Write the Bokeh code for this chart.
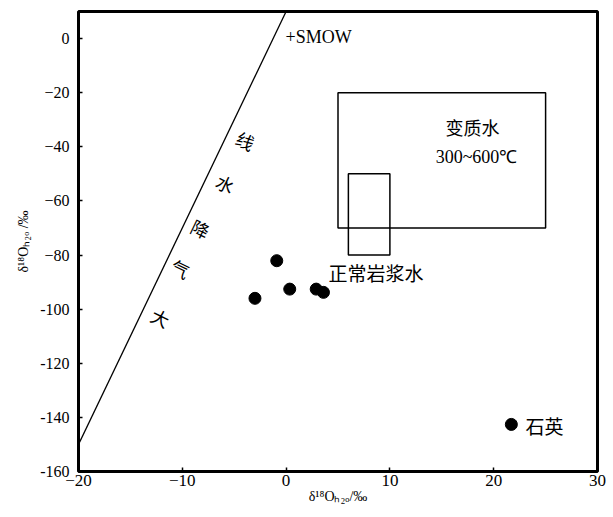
from bokeh.plotting import figure
from bokeh.models import Range1d, FixedTicker, Label
from bokeh.core.properties import value
from bokeh.embed import file_html
from bokeh.resources import INLINE

# ---------------- data ----------------
sample_x = [-3.0, -0.9, 0.35, 2.9, 3.6]
sample_y = [-96.0, -82.1, -92.6, -92.6, -93.8]
quartz_x = [21.7]
quartz_y = [-142.6]

mwl_x = [-20, 0]          # meteoric water line end points
mwl_y = [-150, 10]

meta_left, meta_right, meta_top, meta_bottom = [5], [25], [-20], [-70]
magma_left, magma_right, magma_top, magma_bottom = [6], [10], [-50], [-80]

x_ticks = [-20, -10, 0, 10, 20, 30]
x_tick_labels = ["\u221220", "\u221210", "0", "10", "20", "30"]
y_ticks = [0, -20, -40, -60, -80, -100, -120, -140, -160]
y_tick_labels = ["0", "\u221220", "\u221240", "\u221260", "\u221280", "-100", "-120", "-140", "-160"]

x_title = "\u03b4\u00b9\u2078O\u2095\u2082\u2092/\u2030"
y_title = "\u03b4\u00b9\u2078O\u2095\u2082\u2092 /\u2030"

mwl_chars = ["大", "气", "降", "水", "线"]

SERIF = "Liberation Serif"
CJK = "Noto Sans CJK SC"

# ---------------- figure ----------------
W, H = 608, 515
FL, FT, FR, FB = 78, 11, 597, 471   # frame edges in canvas px
p = figure(width=W, height=H, output_backend="svg", toolbar_location=None,
           x_range=Range1d(-20, 30), y_range=Range1d(-160, 10))
p.min_border = 0
p.min_border_left = FL
p.min_border_right = W - FR
p.min_border_top = FT
p.min_border_bottom = H - FB
p.background_fill_color = "white"
p.border_fill_color = "white"
p.outline_line_color = "black"
p.outline_line_width = 3
p.xgrid.visible = False
p.ygrid.visible = False

for ax, ticks, labels, size in ((p.xaxis, x_ticks, x_tick_labels, "17px"),
                                (p.yaxis, y_ticks, y_tick_labels, "16px")):
    ax.ticker = FixedTicker(ticks=ticks)
    ax.major_label_overrides = {t: l for t, l in zip(ticks, labels)}
    ax.axis_line_color = None
    ax.major_tick_in = 4
    ax.major_tick_out = 0
    ax.major_tick_line_width = 1.5
    ax.major_tick_line_color = "black"
    ax.minor_tick_line_color = None
    ax.major_label_text_font = SERIF
    ax.major_label_text_font_size = size
    ax.major_label_text_color = "black"
    ax.axis_label_text_font = SERIF
    ax.axis_label_text_font_size = "14px"
    ax.axis_label_text_font_style = "normal"
    ax.axis_label_text_color = "black"
    ax.axis_label_standoff = 0
p.xaxis.axis_label = x_title
p.yaxis.axis_label = y_title
p.xaxis.major_label_standoff = 3
p.yaxis.major_label_standoff = 9
p.yaxis.axis_label_standoff = 6

# canvas-pixel -> data helpers (for text placement only)
def dx(px):
    return -20 + (px - FL) / ((FR - FL) / 50)

def dy(py):
    return 10 - (py - FT) / ((FB - FT) / 170)

# meteoric water line
p.line(mwl_x, mwl_y, line_color="black", line_width=1.3)

# boxes
p.quad(left=meta_left, right=meta_right, top=meta_top, bottom=meta_bottom,
       fill_color=None, line_color="black", line_width=1.5)
p.quad(left=magma_left, right=magma_right, top=magma_top, bottom=magma_bottom,
       fill_color=None, line_color="black", line_width=1.5)

# samples
p.scatter(sample_x, sample_y, size=12, color="black")
p.scatter(quartz_x, quartz_y, size=12, color="black")

# meteoric line label characters
char_px = [(160, 317), (180, 268), (200, 228), (225, 183), (245, 140)]
p.text(x=[dx(a) for a, b in char_px], y=[dy(b) for a, b in char_px], text=mwl_chars,
       angle=-0.45, text_align="center", text_baseline="middle",
       text_font=value(CJK), text_font_size="18px", text_color="black")

def txt(px, py, s, font, size, align="left", baseline="middle"):
    p.add_layout(Label(x=dx(px), y=dy(py), text=s, text_font=font, text_font_size=size,
                       text_align=align, text_baseline=baseline, text_color="black"))

txt(285, 36, "+SMOW", SERIF, "18px")
txt(472, 126, "变质水", CJK, "18px", align="center")
txt(476, 156, "300~600\u2103", SERIF, "18px", align="center")
txt(328, 272, "正常岩浆水", CJK, "19px")
txt(525, 425, "石英", CJK, "19px")

open("out.html", "w").write(file_html(p, INLINE))
